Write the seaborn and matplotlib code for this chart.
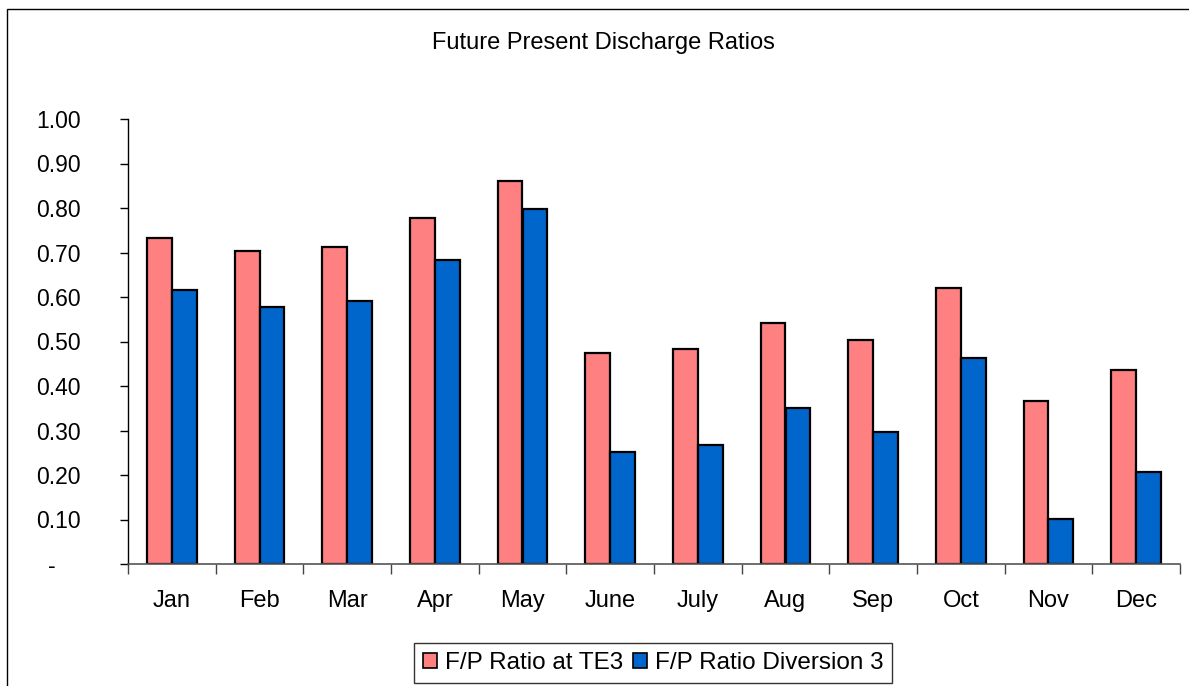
import matplotlib
matplotlib.use("Agg")
import matplotlib.pyplot as plt
import seaborn as sns
import pandas as pd
from matplotlib.patches import Rectangle

months = ["Jan", "Feb", "Mar", "Apr", "May", "June", "July", "Aug", "Sep", "Oct", "Nov", "Dec"]
series_names = ["F/P Ratio at TE3", "F/P Ratio Diversion 3"]
ratio_te3 = [0.733, 0.703, 0.712, 0.778, 0.861, 0.475, 0.483, 0.542, 0.504, 0.620, 0.367, 0.437]
ratio_div3 = [0.616, 0.578, 0.590, 0.683, 0.798, 0.251, 0.268, 0.351, 0.297, 0.463, 0.102, 0.206]
y_ticks = [0.0, 0.1, 0.2, 0.3, 0.4, 0.5, 0.6, 0.7, 0.8, 0.9, 1.0]
y_tick_labels = ["-    ", "0.10", "0.20", "0.30", "0.40", "0.50", "0.60", "0.70", "0.80", "0.90", "1.00"]
title = "Future Present Discharge Ratios"
colors = ["#FF8080", "#0066CC"]

df = pd.DataFrame({
    "month": months * 2,
    "series": [series_names[0]] * len(months) + [series_names[1]] * len(months),
    "value": ratio_te3 + ratio_div3,
})

sns.set_style("white")
plt.rcParams["font.family"] = ["Liberation Sans", "DejaVu Sans"]
plt.rcParams["text.color"] = "black"
plt.rcParams["xtick.color"] = "black"
plt.rcParams["ytick.color"] = "black"

W, H = 1189, 686
fig = plt.figure(figsize=(W / 100, H / 100), dpi=100)
ax = fig.add_axes([128 / W, 1 - 564 / H, (1180 - 128) / W, (564 - 119) / H])

sns.barplot(data=df, x="month", y="value", hue="series", order=months,
            hue_order=series_names, palette=colors, saturation=1,
            width=0.57, edgecolor="black", linewidth=1.6, ax=ax)

ax.set_xlim(-0.5, len(months) - 0.5)
ax.set_ylim(0, 1.0)
ax.set_yticks(y_ticks)
ax.set_yticklabels(y_tick_labels, fontsize=16.5, color="black")
ax.tick_params(axis="y", direction="out", length=6, width=1, pad=28, color="black", left=True)
ax.set_xticks(range(len(months)))
ax.set_xticklabels(months, fontsize=17, color="black")
ax.tick_params(axis="x", which="major", length=0, pad=19)
ax.set_xticks([i - 0.5 for i in range(len(months) + 1)], minor=True)
ax.tick_params(axis="x", which="minor", direction="out", length=7, width=1, color="#444444", bottom=True)
ax.set_xlabel("")
ax.set_ylabel("")
for s in ["top", "right"]:
    ax.spines[s].set_visible(False)
ax.spines["left"].set_color("black")
ax.spines["bottom"].set_color("#555555")
ax.spines["left"].set_linewidth(1)
ax.spines["bottom"].set_linewidth(1.2)

fig.text(603 / W, 1 - 43 / H, title, ha="center", va="center", fontsize=17, color="black")

ax.get_legend().remove()
handles = [Rectangle((0, 0), 1, 1, facecolor=c, edgecolor="black", linewidth=1.2) for c in colors]
leg = fig.legend(handles, series_names, loc="center", bbox_to_anchor=(653 / W, 1 - 663 / H),
                 ncol=2, fontsize=17.5, frameon=True, fancybox=False, edgecolor="black",
                 handlelength=0.6, handleheight=0.6, handletextpad=0.3, columnspacing=0.4,
                 borderpad=0.35, borderaxespad=0)
leg.get_frame().set_linewidth(1)
for t in leg.get_texts():
    t.set_color("black")

fig.patches.append(Rectangle((7 / W, -0.2), 1.5, (1 - 9 / H) + 0.2, fill=False,
                             edgecolor="black", linewidth=1, transform=fig.transFigure))

fig.savefig("out.png", dpi=100)
